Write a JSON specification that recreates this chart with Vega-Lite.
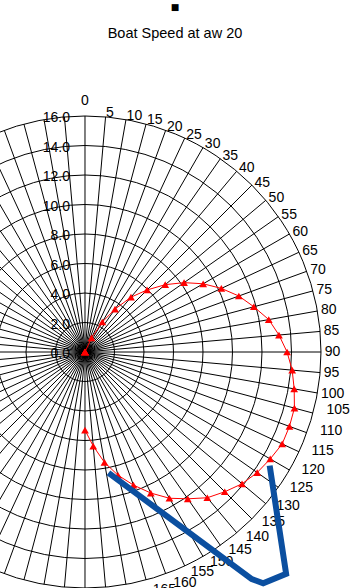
{
  "$schema": "https://vega.github.io/schema/vega-lite/v6.json",
  "width": 360,
  "height": 528,
  "autosize": {"type": "none"},
  "padding": {"left": 0, "top": 60, "right": 0, "bottom": 0},
  "background": "white",
  "config": {"view": {"stroke": null}, "font": "Liberation Sans"},
  "title": {
    "text": "■",
    "subtitle": "Boat Speed at aw 20",
    "font": "DejaVu Sans",
    "fontSize": 9,
    "fontWeight": "normal",
    "color": "black",
    "subtitleFont": "Liberation Sans",
    "subtitleFontSize": 14.5,
    "subtitleColor": "black",
    "subtitlePadding": 15,
    "anchor": "middle",
    "dx": -5,
    "offset": 20
  },
  "datasets": {
    "rings": [
      {"r": 0, "label": "0.0"}, {"r": 2, "label": "2.0"}, {"r": 4, "label": "4.0"},
      {"r": 6, "label": "6.0"}, {"r": 8, "label": "8.0"}, {"r": 10, "label": "10.0"},
      {"r": 12, "label": "12.0"}, {"r": 14, "label": "14.0"}, {"r": 16, "label": "16.0"}
    ],
    "spokes": [
      {"angle": 0, "label": "0"}, {"angle": 5, "label": "5"}, {"angle": 10, "label": "10"},
      {"angle": 15, "label": "15"}, {"angle": 20, "label": "20"}, {"angle": 25, "label": "25"},
      {"angle": 30, "label": "30"}, {"angle": 35, "label": "35"}, {"angle": 40, "label": "40"},
      {"angle": 45, "label": "45"}, {"angle": 50, "label": "50"}, {"angle": 55, "label": "55"},
      {"angle": 60, "label": "60"}, {"angle": 65, "label": "65"}, {"angle": 70, "label": "70"},
      {"angle": 75, "label": "75"}, {"angle": 80, "label": "80"}, {"angle": 85, "label": "85"},
      {"angle": 90, "label": "90"}, {"angle": 95, "label": "95"}, {"angle": 100, "label": "100"},
      {"angle": 105, "label": "105"}, {"angle": 110, "label": "110"}, {"angle": 115, "label": "115"},
      {"angle": 120, "label": "120"}, {"angle": 125, "label": "125"}, {"angle": 130, "label": "130"},
      {"angle": 135, "label": "135"}, {"angle": 140, "label": "140"}, {"angle": 145, "label": "145"},
      {"angle": 150, "label": "150"}, {"angle": 155, "label": "155"}, {"angle": 160, "label": "160"},
      {"angle": 165, "label": "165"}, {"angle": 170, "label": "170"}, {"angle": 175, "label": "175"},
      {"angle": 180, "label": "180"}, {"angle": 185, "label": ""}, {"angle": 190, "label": ""},
      {"angle": 195, "label": ""}, {"angle": 200, "label": ""}, {"angle": 205, "label": ""},
      {"angle": 210, "label": ""}, {"angle": 215, "label": ""}, {"angle": 220, "label": ""},
      {"angle": 225, "label": ""}, {"angle": 230, "label": ""}, {"angle": 235, "label": ""},
      {"angle": 240, "label": ""}, {"angle": 245, "label": ""}, {"angle": 250, "label": ""},
      {"angle": 255, "label": ""}, {"angle": 260, "label": ""}, {"angle": 265, "label": ""},
      {"angle": 270, "label": ""}, {"angle": 275, "label": ""}, {"angle": 280, "label": ""},
      {"angle": 285, "label": ""}, {"angle": 290, "label": ""}, {"angle": 295, "label": ""},
      {"angle": 300, "label": ""}, {"angle": 305, "label": ""}, {"angle": 310, "label": ""},
      {"angle": 315, "label": ""}, {"angle": 320, "label": ""}, {"angle": 325, "label": ""},
      {"angle": 330, "label": ""}, {"angle": 335, "label": ""}, {"angle": 340, "label": ""},
      {"angle": 345, "label": ""}, {"angle": 350, "label": ""}, {"angle": 355, "label": ""}
    ],
    "speed": [
      {"angle": 0, "speed": 0}, {"angle": 5, "speed": 0}, {"angle": 10, "speed": 0},
      {"angle": 15, "speed": 0}, {"angle": 20, "speed": 0}, {"angle": 25, "speed": 1.05},
      {"angle": 30, "speed": 2.35}, {"angle": 35, "speed": 3.55}, {"angle": 40, "speed": 4.85},
      {"angle": 45, "speed": 5.95}, {"angle": 50, "speed": 7.1}, {"angle": 55, "speed": 8.2},
      {"angle": 60, "speed": 9.25}, {"angle": 65, "speed": 10.2}, {"angle": 70, "speed": 11.1},
      {"angle": 75, "speed": 11.85}, {"angle": 80, "speed": 12.65}, {"angle": 85, "speed": 13.2},
      {"angle": 90, "speed": 13.7}, {"angle": 95, "speed": 14.1}, {"angle": 100, "speed": 14.4},
      {"angle": 105, "speed": 14.7}, {"angle": 110, "speed": 14.75}, {"angle": 115, "speed": 14.75},
      {"angle": 120, "speed": 14.5}, {"angle": 125, "speed": 14.25}, {"angle": 130, "speed": 13.9},
      {"angle": 135, "speed": 13.4}, {"angle": 140, "speed": 12.9}, {"angle": 145, "speed": 12.15},
      {"angle": 150, "speed": 11.45}, {"angle": 155, "speed": 10.55}, {"angle": 160, "speed": 9.6},
      {"angle": 165, "speed": 8.65}, {"angle": 170, "speed": 7.6}, {"angle": 175, "speed": 6.4},
      {"angle": 180, "speed": 5.3}
    ],
    "blue": [
      {"i": 1, "angle": 169, "speed": 8.35},
      {"i": 2, "angle": 143.7, "speed": 19.1},
      {"i": 3, "angle": 142.4, "speed": 19.8},
      {"i": 4, "angle": 137.8, "speed": 20.3},
      {"i": 5, "angle": 121.6, "speed": 14.7}
    ]
  },
  "encoding": {
    "x": {"type": "quantitative", "scale": {"domain": [-5.76271, 18.64407], "nice": false, "zero": false}, "axis": null},
    "y": {"type": "quantitative", "scale": {"domain": [-16, 19.79661], "nice": false, "zero": false}, "axis": null}
  },
  "layer": [
    {
      "data": {"name": "rings"},
      "transform": [{"filter": "datum.r > 0"}],
      "mark": {"type": "point", "shape": "circle", "filled": false, "stroke": "black", "strokeWidth": 1, "opacity": 1},
      "encoding": {
        "x": {"datum": 0, "type": "quantitative"},
        "y": {"datum": 0, "type": "quantitative"},
        "size": {"field": "r", "type": "quantitative", "scale": {"type": "pow", "exponent": 2, "domain": [0, 16], "range": [0, 222784]}, "legend": null}
      }
    },
    {
      "data": {"name": "spokes"},
      "transform": [
        {"calculate": "16 * sin(datum.angle * PI / 180)", "as": "sx"},
        {"calculate": "16 * cos(datum.angle * PI / 180)", "as": "sy"}
      ],
      "mark": {"type": "rule", "color": "black", "strokeWidth": 1},
      "encoding": {
        "x": {"field": "sx", "type": "quantitative"},
        "y": {"field": "sy", "type": "quantitative"},
        "x2": {"datum": 0},
        "y2": {"datum": 0}
      }
    },
    {
      "data": {"name": "rings"},
      "mark": {"type": "text", "align": "right", "baseline": "middle", "dx": -15, "dy": 2, "fontSize": 14, "color": "black"},
      "encoding": {
        "x": {"datum": 0, "type": "quantitative"},
        "y": {"field": "r", "type": "quantitative"},
        "text": {"field": "label"}
      }
    },
    {
      "data": {"name": "spokes"},
      "transform": [
        {"filter": "datum.angle == 0"},
        {"calculate": "16.56 * sin(datum.angle * PI / 180)", "as": "lx"},
        {"calculate": "16.56 * cos(datum.angle * PI / 180)", "as": "ly"}
      ],
      "mark": {"type": "text", "align": "center", "baseline": "bottom", "fontSize": 14, "color": "black"},
      "encoding": {
        "x": {"field": "lx", "type": "quantitative"},
        "y": {"field": "ly", "type": "quantitative"},
        "text": {"field": "label"}
      }
    },
    {
      "data": {"name": "spokes"},
      "transform": [
        {"filter": "datum.angle >= 5 && datum.angle <= 100"},
        {"calculate": "16.25 * sin(datum.angle * PI / 180)", "as": "lx"},
        {"calculate": "16.25 * cos(datum.angle * PI / 180)", "as": "ly"}
      ],
      "mark": {"type": "text", "align": "left", "baseline": "middle", "fontSize": 14, "color": "black"},
      "encoding": {
        "x": {"field": "lx", "type": "quantitative"},
        "y": {"field": "ly", "type": "quantitative"},
        "text": {"field": "label"}
      }
    },
    {
      "data": {"name": "spokes"},
      "transform": [
        {"filter": "datum.angle >= 105 && datum.angle <= 155"},
        {"calculate": "16.95 * sin(datum.angle * PI / 180)", "as": "lx"},
        {"calculate": "16.95 * cos(datum.angle * PI / 180)", "as": "ly"}
      ],
      "mark": {"type": "text", "align": "left", "baseline": "bottom", "fontSize": 14, "color": "black"},
      "encoding": {
        "x": {"field": "lx", "type": "quantitative"},
        "y": {"field": "ly", "type": "quantitative"},
        "text": {"field": "label"}
      }
    },
    {
      "data": {"name": "spokes"},
      "transform": [
        {"filter": "datum.angle >= 160 && datum.angle <= 180"},
        {"calculate": "16.7 * sin(datum.angle * PI / 180)", "as": "lx"},
        {"calculate": "16.7 * cos(datum.angle * PI / 180)", "as": "ly"}
      ],
      "mark": {"type": "text", "align": "left", "baseline": "middle", "dx": 4, "fontSize": 14, "color": "black"},
      "encoding": {
        "x": {"field": "lx", "type": "quantitative"},
        "y": {"field": "ly", "type": "quantitative"},
        "text": {"field": "label"}
      }
    },
    {
      "data": {"name": "speed"},
      "transform": [
        {"calculate": "datum.speed * sin(datum.angle * PI / 180)", "as": "px"},
        {"calculate": "datum.speed * cos(datum.angle * PI / 180)", "as": "py"}
      ],
      "mark": {"type": "line", "color": "#FF0000", "strokeWidth": 1},
      "encoding": {
        "x": {"field": "px", "type": "quantitative"},
        "y": {"field": "py", "type": "quantitative"},
        "order": {"field": "angle", "type": "quantitative"}
      }
    },
    {
      "data": {"name": "speed"},
      "transform": [
        {"calculate": "datum.speed * sin(datum.angle * PI / 180)", "as": "px"},
        {"calculate": "datum.speed * cos(datum.angle * PI / 180)", "as": "py"}
      ],
      "mark": {"type": "point", "shape": "triangle-up", "filled": true, "color": "#FF0000", "size": 60, "opacity": 1},
      "encoding": {
        "x": {"field": "px", "type": "quantitative"},
        "y": {"field": "py", "type": "quantitative"}
      }
    },
    {
      "data": {"name": "blue"},
      "transform": [
        {"calculate": "datum.speed * sin(datum.angle * PI / 180)", "as": "px"},
        {"calculate": "datum.speed * cos(datum.angle * PI / 180)", "as": "py"}
      ],
      "mark": {"type": "line", "color": "#0B4FA0", "strokeWidth": 6, "strokeJoin": "miter", "strokeCap": "butt"},
      "encoding": {
        "x": {"field": "px", "type": "quantitative"},
        "y": {"field": "py", "type": "quantitative"},
        "order": {"field": "i", "type": "quantitative"}
      }
    }
  ]
}
